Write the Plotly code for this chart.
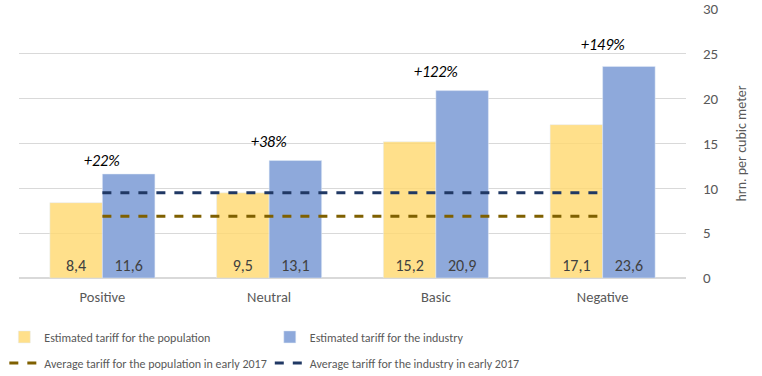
import plotly.graph_objects as go

categories = ["Positive", "Neutral", "Basic", "Negative"]
population = [8.4, 9.5, 15.2, 17.1]
industry = [11.6, 13.1, 20.9, 23.6]
avg_population_2017 = 6.9
avg_industry_2017 = 9.5
growth_labels = ["+22%", "+38%", "+122%", "+149%"]
label_y = [13.1, 15.2, 23.0, 26.0]
y_ticks = [0, 5, 10, 15, 20, 25, 30]

FONT = "Carlito, Calibri, Liberation Sans, Arial, sans-serif"
GREY = "#595959"

fig = go.Figure()
fig.add_trace(go.Bar(
    x=categories, y=population, name="Estimated tariff for the population",
    marker_color="rgba(255,216,110,0.8)", text=[f"{v:.1f}".replace(".", ",") for v in population],
    textposition="inside", insidetextanchor="start",
    textfont=dict(color="#404040", size=16, family=FONT), legend="legend",
))
fig.add_trace(go.Bar(
    x=categories, y=industry, name="Estimated tariff for the industry",
    marker_color="#8EA9DB", text=[f"{v:.1f}".replace(".", ",") for v in industry],
    textposition="inside", insidetextanchor="start",
    textfont=dict(color="#404040", size=16, family=FONT), legend="legend2",
))
fig.add_trace(go.Scatter(
    x=[categories[0], categories[-1]], y=[avg_population_2017] * 2, mode="lines",
    name="Average tariff for the population in early 2017",
    line=dict(color="#7F6000", width=3, dash="dash"), legend="legend3",
))
fig.add_trace(go.Scatter(
    x=[categories[0], categories[-1]], y=[avg_industry_2017] * 2, mode="lines",
    name="Average tariff for the industry in early 2017",
    line=dict(color="#203864", width=3, dash="dash"), legend="legend4",
))

for c, lab, yy in zip(categories, growth_labels, label_y):
    fig.add_annotation(x=c, y=yy, text=f"<i>{lab}</i>", showarrow=False,
                       font=dict(size=16, color="#000000", family=FONT))

def leg(x, y):
    return dict(x=x, xanchor="left", y=y, yanchor="middle", itemwidth=30,
                bgcolor="rgba(0,0,0,0)",
                font=dict(size=12, color=GREY, family=FONT))

COL0, COL1 = -0.022, 0.376
ROW0, ROW1 = -0.219, -0.316

fig.update_layout(
    width=762, height=376,
    margin=dict(l=19, r=76, t=9, b=98, autoexpand=False),
    plot_bgcolor="white", paper_bgcolor="white",
    barmode="group", bargap=0.37, bargroupgap=0,
    font=dict(family=FONT, color=GREY, size=14),
    showlegend=True,
    legend=leg(COL0, ROW0), legend2=leg(COL1, ROW0),
    legend3=leg(COL0, ROW1), legend4=leg(COL1, ROW1),
    xaxis=dict(showgrid=False, tickfont=dict(size=14.5, color=GREY), showline=False,
               ticks="", automargin=False, ticklabelstandoff=8),
    yaxis=dict(side="right", range=[0, 30], tickvals=y_ticks, showgrid=True,
               gridcolor="#D9D9D9", gridwidth=1, zeroline=True, zerolinecolor="#D9D9D9",
               tickfont=dict(size=15, color=GREY), automargin=False, ticklabelstandoff=16,
               title=dict(text="hrn. per cubic meter", font=dict(size=14, color=GREY), standoff=18)),
)

fig.write_html("out.html", config={"displayModeBar": False},
               post_script="document.body.style.margin='0px';")
